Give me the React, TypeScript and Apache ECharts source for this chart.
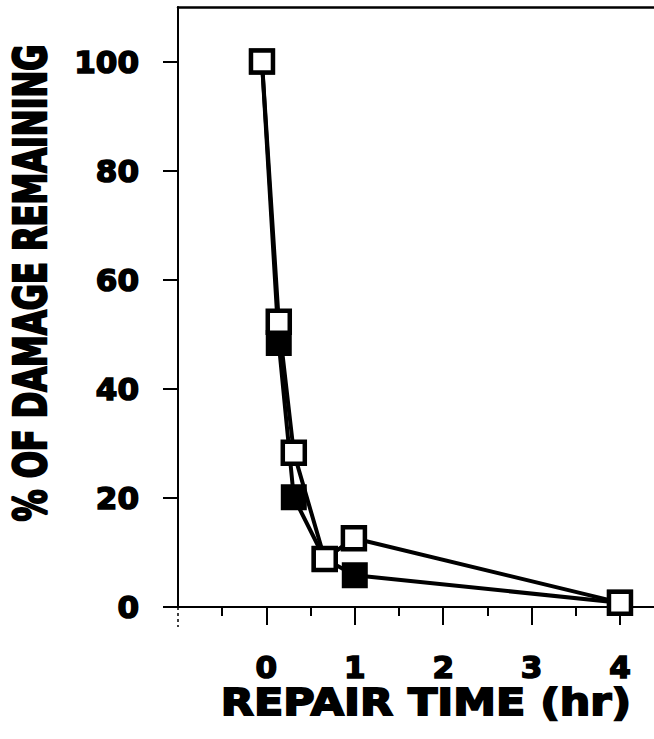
import React, { useEffect, useRef } from "react";
import * as echarts from "echarts";

const timeOpen = [-0.05, 0.14, 0.31, 0.66, 0.99, 4.0];
const damageOpen = [100, 52.3, 28.3, 8.8, 12.6, 0.8];
const timeFilled = [-0.05, 0.14, 0.31, 0.66, 1.0, 4.0];
const damageFilled = [100, 48.4, 20.1, 8.8, 5.8, 0.8];
const yTickValues = [0, 20, 40, 60, 80, 100];
const xMajorTicks = [0, 1, 2, 3, 4];
const xMinorTicks = [-0.5, 0.5, 1.5, 2.5, 3.5];
const xTitle = "REPAIR TIME (hr)";
const yTitle = "% OF DAMAGE REMAINING";

const X_MIN = -1;
const X_MAX = 4.385;
const Y_MIN = 0;
const Y_MAX = 110;
const FONT = "DejaVu Sans";

export default function App() {
  const ref = useRef<HTMLDivElement>(null);
  useEffect(() => {
    if (!ref.current) return;
    const chart = echarts.init(ref.current, undefined, { renderer: "svg" });
    const labelStyle = {
      color: "#000",
      fontFamily: FONT,
      fontWeight: "bold" as const,
      fontSize: 31,
      textBorderColor: "#000",
      textBorderWidth: 1.6,
    };
    chart.setOption({
      animation: false,
      backgroundColor: "#fff",
      grid: { left: 178, right: 0, top: 7, bottom: 132, containLabel: false },
      xAxis: [
        {
          type: "value",
          min: X_MIN,
          max: X_MAX,
          position: "bottom",
          axisLine: { show: true, onZero: false, lineStyle: { color: "#000", width: 2 } },
          axisTick: {
            show: true,
            customValues: xMajorTicks,
            length: 18,
            inside: false,
            lineStyle: { color: "#000", width: 2 },
          },
          axisLabel: { customValues: xMajorTicks, margin: 44, ...labelStyle },
          splitLine: { show: false },
        },
        {
          type: "value",
          min: X_MIN,
          max: X_MAX,
          position: "bottom",
          axisLine: { show: false },
          axisTick: {
            show: true,
            customValues: xMinorTicks,
            length: 9,
            lineStyle: { color: "#000", width: 2 },
          },
          axisLabel: { show: false },
          splitLine: { show: false },
        },
        {
          type: "value",
          min: X_MIN,
          max: X_MAX,
          position: "top",
          axisLine: { show: true, onZero: false, lineStyle: { color: "#000", width: 2.5 } },
          axisTick: { show: false },
          axisLabel: { show: false },
          splitLine: { show: false },
        },
      ],
      yAxis: {
        type: "value",
        min: Y_MIN,
        max: Y_MAX,
        axisLine: { show: true, onZero: false, lineStyle: { color: "#000", width: 2 } },
        axisTick: {
          show: true,
          customValues: yTickValues,
          length: 15,
          lineStyle: { color: "#000", width: 2 },
        },
        axisLabel: { customValues: yTickValues, margin: 39, ...labelStyle },
        splitLine: { show: false },
      },
      series: [
        {
          type: "line",
          xAxisIndex: 0,
          data: timeFilled.map((t, i) => [t, damageFilled[i]]),
          symbol: "rect",
          symbolSize: 22,
          showAllSymbol: true,
          lineStyle: { color: "#000", width: 4 },
          itemStyle: { color: "#000", borderColor: "#000", borderWidth: 4 },
          z: 2,
        },
        {
          type: "line",
          xAxisIndex: 0,
          data: timeOpen.map((t, i) => [t, damageOpen[i]]),
          symbol: "rect",
          symbolSize: 22,
          showAllSymbol: true,
          lineStyle: { color: "#000", width: 4 },
          itemStyle: { color: "#fff", borderColor: "#000", borderWidth: 4.5 },
          z: 3,
        },
      ],
    });

    const origin = chart.convertToPixel({ gridIndex: 0 }, [X_MIN, 0]) as number[];
    chart.setOption({
      graphic: [
        {
          type: "line",
          shape: { x1: origin[0] - 14, y1: origin[1], x2: origin[0], y2: origin[1] },
          style: { stroke: "#000", lineWidth: 2 },
          z: 10,
        },
        {
          type: "line",
          shape: { x1: origin[0], y1: origin[1], x2: origin[0], y2: origin[1] + 20 },
          style: { stroke: "#000", lineWidth: 1.5, lineDash: [3, 3] },
          z: 10,
        },
        {
          type: "text",
          x: 426,
          y: 702,
          style: {
            text: xTitle,
            fontFamily: FONT,
            fontWeight: "bold",
            fontSize: 38,
            fill: "#000",
            stroke: "#000",
            lineWidth: 1.8,
            textAlign: "center",
            textVerticalAlign: "middle",
          },
          scaleX: 1.13,
          z: 10,
        },
        {
          type: "text",
          x: 31,
          y: 283,
          rotation: Math.PI / 2,
          style: {
            text: yTitle,
            fontFamily: FONT,
            fontWeight: "bold",
            fontSize: 32,
            fill: "#000",
            stroke: "#000",
            lineWidth: 1.8,
            textAlign: "center",
            textVerticalAlign: "middle",
          },
          scaleY: 1.37,
          z: 10,
        },
      ],
    });

    return () => chart.dispose();
  }, []);
  return (
    <div
      ref={ref}
      style={{ position: "absolute", left: 0, top: 0, width: 654, height: 739 }}
    />
  );
}
